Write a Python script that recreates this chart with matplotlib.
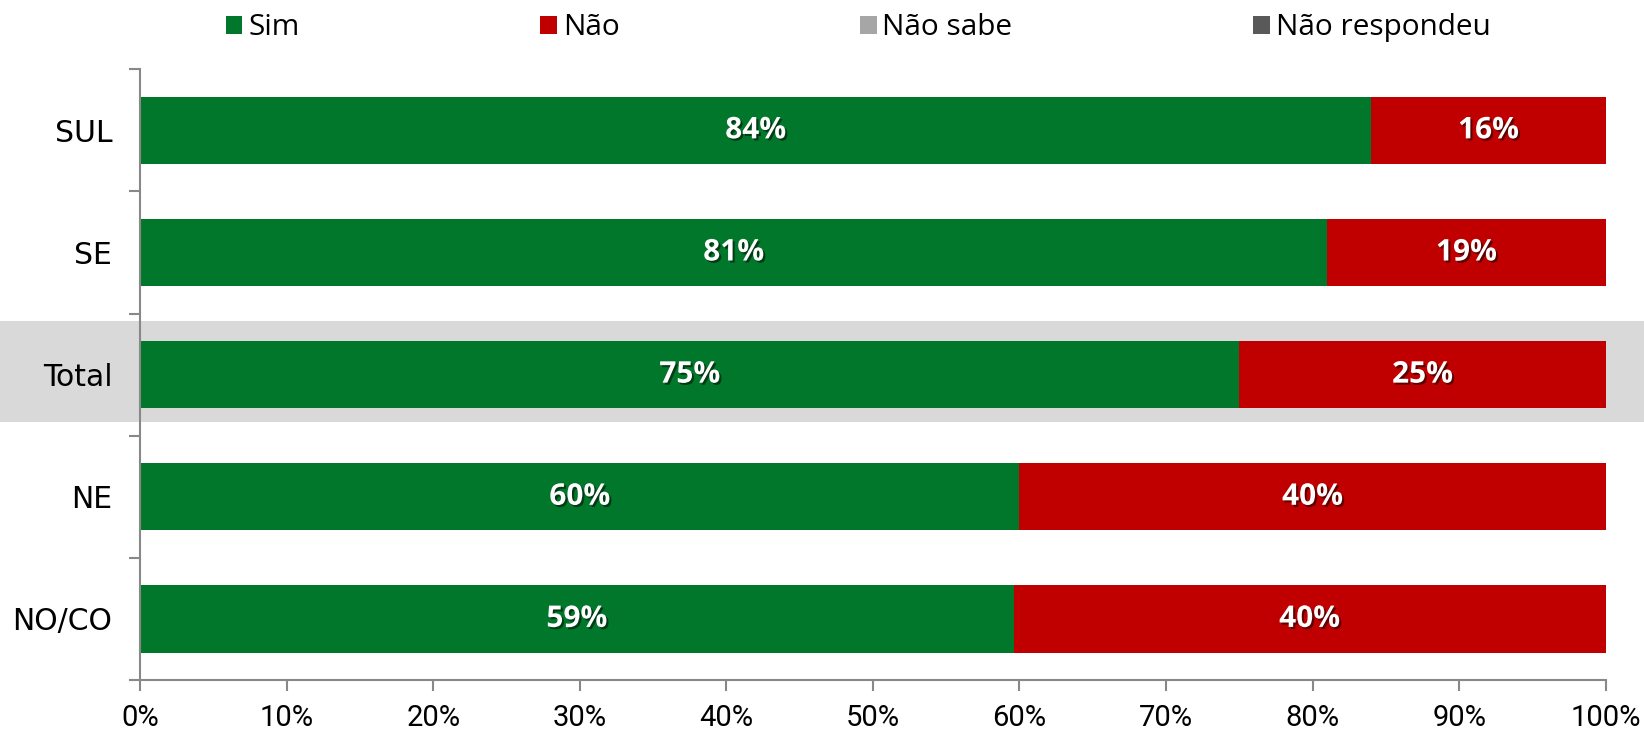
import numpy as np
import matplotlib
matplotlib.use("Agg")
import matplotlib.pyplot as plt
import matplotlib.patheffects as pe
from matplotlib.patches import Rectangle, Patch
from matplotlib.transforms import blended_transform_factory

# data
regions = ["SUL", "SE", "Total", "NE", "NO/CO"]
sim = [84.0, 81.0, 75.0, 60.0, 59.6]
nao = [16.0, 19.0, 25.0, 40.0, 40.4]
nao_sabe = [0.0, 0.0, 0.0, 0.0, 0.0]
nao_resp = [0.0, 0.0, 0.0, 0.0, 0.0]
sim_labels = ["84%", "81%", "75%", "60%", "59%"]
nao_labels = ["16%", "19%", "25%", "40%", "40%"]
series_names = ["Sim", "Não", "Não sabe", "Não respondeu"]
colors = ["#00772a", "#c00000", "#a6a6a6", "#595959"]
xticks = np.arange(0, 101, 10)

fig = plt.figure(figsize=(16.44, 7.33), dpi=100)
ax = fig.add_axes([0.0852, 0.0723, 0.8915, 0.8332])

y = np.arange(len(regions))
h = 0.55
left = np.zeros(len(regions))
for vals, c in zip([sim, nao, nao_sabe, nao_resp], colors):
    ax.barh(y, vals, left=left, height=h, color=c, zorder=2)
    left = left + np.array(vals)

shadow = [pe.SimplePatchShadow(offset=(1.5, -1.5), shadow_rgbFace="#000000", alpha=0.5), pe.Normal()]
for i in range(len(regions)):
    ax.text(sim[i] / 2, y[i], sim_labels[i], ha="center", va="center", color="white",
            fontsize=21.5, fontweight="bold", family="Open Sans", path_effects=shadow, zorder=3)
    ax.text(sim[i] + nao[i] / 2, y[i], nao_labels[i], ha="center", va="center", color="white",
            fontsize=21.5, fontweight="bold", family="Open Sans", path_effects=shadow, zorder=3)

# highlight band behind the Total row
ti = regions.index("Total")
trans = blended_transform_factory(fig.transFigure, ax.transData)
ax.add_patch(Rectangle((0, ti - 0.437), 1, 0.827, transform=trans, facecolor="#d9d9d9",
                       edgecolor="none", clip_on=False, zorder=0.5))

ax.set_xlim(0, 100)
ax.set_ylim(len(regions) - 0.5, -0.5)
ax.set_xticks(xticks)
ax.set_xticklabels([f"{v}%" for v in xticks], family="Roboto", fontsize=21)
ax.set_yticks(y)
ax.set_yticklabels(regions, family="DejaVu Sans", fontsize=21.5)
ax.set_yticks(np.arange(-0.5, len(regions), 1), minor=True)
ax.tick_params(axis="y", which="major", length=0, pad=20)
ax.tick_params(axis="y", which="minor", length=8, width=1.5, color="#888888", direction="out")
ax.tick_params(axis="x", length=8, width=1.5, color="#888888", direction="out", pad=9)

for s in ["top", "right"]:
    ax.spines[s].set_visible(False)
for s in ["left", "bottom"]:
    ax.spines[s].set_color("#888888")
    ax.spines[s].set_linewidth(1.5)
ax.patch.set_alpha(0)

handles = [Patch(facecolor=c, edgecolor="none") for c in colors]
fig.legend(handles, series_names, loc="center", bbox_to_anchor=(0.522, 0.962), ncol=4,
           frameon=False, prop={"family": "Open Sans", "size": 21.4},
           handlelength=0.55, handleheight=0.55, handletextpad=0.2, columnspacing=8.1)

fig.savefig("out.png", dpi=100)
